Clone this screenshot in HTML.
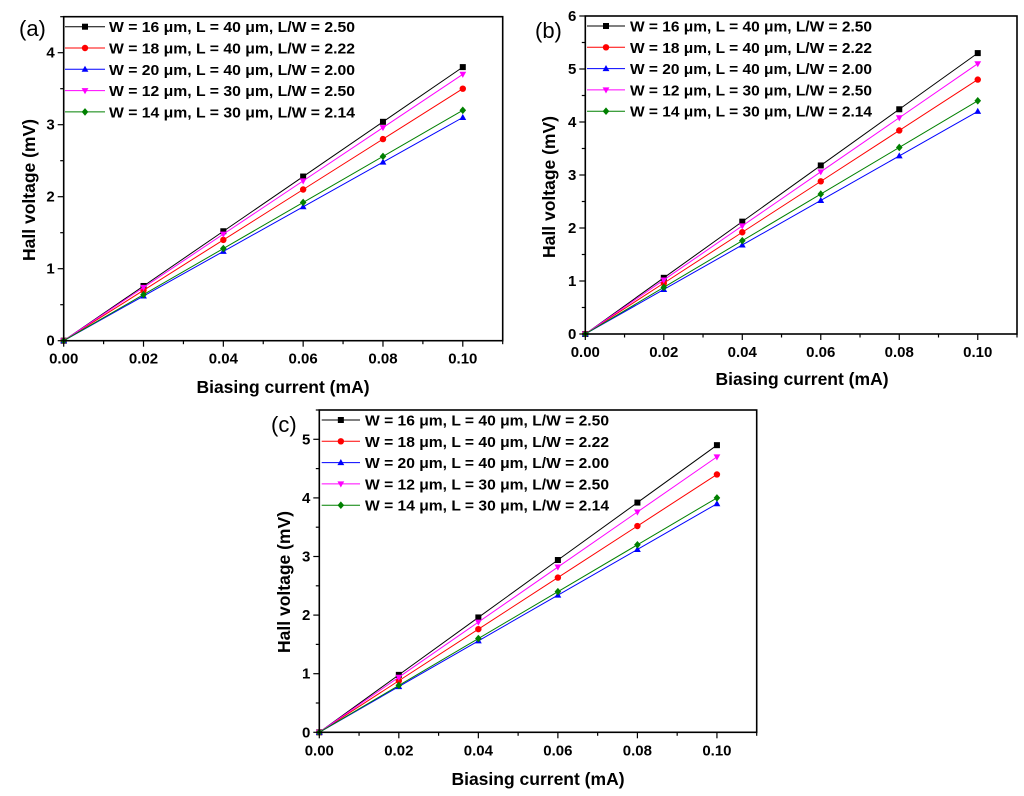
<!DOCTYPE html>
<html><head><meta charset="utf-8"><style>
html,body{margin:0;padding:0;background:#fff;}
svg{display:block;font-family:"Liberation Sans",Arial,sans-serif;}
</style></head><body>
<svg id="fig" width="1024" height="796" viewBox="0 0 1024 796" xmlns="http://www.w3.org/2000/svg"></svg>
<script>
const xValues = [0, 0.02, 0.04, 0.06, 0.08, 0.10];
const seriesLabels = ["W = 16 μm, L = 40 μm, L/W = 2.50","W = 18 μm, L = 40 μm, L/W = 2.22","W = 20 μm, L = 40 μm, L/W = 2.00","W = 12 μm, L = 30 μm, L/W = 2.50","W = 14 μm, L = 30 μm, L/W = 2.14"];
const xTickLabels = ["0.00","0.02","0.04","0.06","0.08","0.10"];
const aBlack = [0,0.76,1.52,2.28,3.04,3.8];
const aRed = [0,0.70,1.40,2.10,2.80,3.5];
const aBlue = [0,0.62,1.24,1.86,2.48,3.1];
const aMagenta = [0,0.74,1.48,2.22,2.96,3.7];
const aGreen = [0,0.64,1.28,1.92,2.56,3.2];
const bBlack = [0,1.06,2.12,3.18,4.24,5.3];
const bRed = [0,0.96,1.92,2.88,3.84,4.8];
const bBlue = [0,0.84,1.68,2.52,3.36,4.2];
const bMagenta = [0,1.02,2.04,3.06,4.08,5.1];
const bGreen = [0,0.88,1.76,2.64,3.52,4.4];
const cBlack = [0,0.98,1.96,2.94,3.92,4.9];
const cRed = [0,0.88,1.76,2.64,3.52,4.4];
const cBlue = [0,0.78,1.56,2.34,3.12,3.9];
const cMagenta = [0,0.94,1.88,2.82,3.76,4.7];
const cGreen = [0,0.80,1.60,2.40,3.20,4.0];
const aYTicks = [0,1,2,3,4];
const bYTicks = [0,1,2,3,4,5,6];
const cYTicks = [0,1,2,3,4,5];

const colors = ["#000000","#ff0000","#0000ff","#ff00ff","#008000"];
const markers = ["square","circle","triUp","triDown","diamond"];
const NS = "http://www.w3.org/2000/svg";
const fig = document.getElementById('fig');
function mk(tag, attrs, parent){const e=document.createElementNS(NS,tag);for(const k in attrs)e.setAttribute(k,attrs[k]);(parent||fig).appendChild(e);return e;}
function marker(g,type,x,y,c){
  let e;
  if(type==="square") e=mk('rect',{x:x-3,y:y-3,width:6,height:6,fill:c},g);
  else if(type==="circle") e=mk('circle',{cx:x,cy:y,r:3.2,fill:c},g);
  else if(type==="triUp") e=mk('polygon',{points:`${x},${y-3.6} ${x-3.4},${y+2.5} ${x+3.4},${y+2.5}`,fill:c},g);
  else if(type==="triDown") e=mk('polygon',{points:`${x},${y+3.6} ${x-3.4},${y-2.5} ${x+3.4},${y-2.5}`,fill:c},g);
  else e=mk('polygon',{points:`${x},${y-3.8} ${x+3.3},${y} ${x},${y+3.8} ${x-3.3},${y}`,fill:c},g);
  
  
}
function panel(p){
  const g=mk('g',{});
  
  
  const X=v=>p.L+(v/0.11)*(p.R-p.L);
  const Y=v=>p.B-(v/p.ymax)*(p.B-p.T);
  p.series.forEach((s,i)=>{
    const pts=xValues.map((xv,j)=>X(xv)+','+Y(s[j])).join(' ');
    const l=mk('polyline',{points:pts,fill:'none',stroke:colors[i],'stroke-width':1},g);
    
    
    xValues.forEach((xv,j)=>marker(g,markers[i],X(xv),Y(s[j]),colors[i]));
  });
  const f=mk('rect',{x:p.L,y:p.T,width:p.R-p.L,height:p.B-p.T,fill:'none',stroke:'#000','stroke-width':1.6},g);
  
  
  for(let k=0;k<=11;k++){
    const v=k*0.01, x=X(v), major=k%2===0;
    mk('line',{x1:x,y1:p.B,x2:x,y2:p.B+(major?6:3.5),stroke:'#000','stroke-width':1.2},g);
  }
  xTickLabels.forEach((t,j)=>{
    const e=mk('text',{x:X(xValues[j]),y:p.B+23,'text-anchor':'middle','font-size':15,'font-weight':'bold'},g);
    e.textContent=t;
    
    
  });
  for(let v=0;v<=p.ymax+1e-9;v+=0.5){
    const major=Math.abs(v-Math.round(v))<1e-9;
    mk('line',{x1:p.L,y1:Y(v),x2:p.L-(major?6:3.5),y2:Y(v),stroke:'#000','stroke-width':1.2},g);
  }
  p.yTicks.forEach(v=>{
    const e=mk('text',{x:p.L-9,y:Y(v)+5,'text-anchor':'end','font-size':15,'font-weight':'bold'},g);
    e.textContent=String(v);
    
    
  });
  const xt=mk('text',{x:p.xtX,y:p.xtY,'text-anchor':'middle','font-size':17.5,'font-weight':'bold'},g);
  xt.textContent='Biasing current (mA)';
  
  
  const yt=mk('text',{x:0,y:0,'text-anchor':'middle','font-size':17.5,'font-weight':'bold',transform:`translate(${p.ytX},${p.ytY}) rotate(-90)`},g);
  yt.textContent='Hall voltage (mV)';
  
  
  const lab=mk('text',{x:p.labX,y:p.labY,'font-size':22},g);
  lab.textContent='('+p.id+')';
  
  
  seriesLabels.forEach((t,i)=>{
    const y=p.legY+i*21.3;
    const lg=mk('g',{},g);
    
    
    mk('line',{x1:p.legX1,y1:y,x2:p.legX2,y2:y,stroke:colors[i],'stroke-width':1},lg);
    marker(lg,markers[i],(p.legX1+p.legX2)/2,y,colors[i]);
    const e=mk('text',{x:p.legTX,y:y+5.5,'font-size':15,'font-weight':'bold',textLength:p.legW,lengthAdjust:'spacingAndGlyphs'},lg);
    e.textContent=t;
  });
}
panel({id:'a',L:63.7,R:502.7,T:16.7,B:340.7,ymax:4.5,yTicks:aYTicks,series:[aBlack,aRed,aBlue,aMagenta,aGreen],
  xtX:283,xtY:393,ytX:35,ytY:190,labX:19,labY:36,legX1:65,legX2:105,legTX:109,legW:246,legY:26.7});
panel({id:'b',L:585.3,R:1017,T:16,B:334,ymax:6,yTicks:bYTicks,series:[bBlack,bRed,bBlue,bMagenta,bGreen],
  xtX:802,xtY:385,ytX:555,ytY:187,labX:535,labY:38,legX1:587,legX2:625,legTX:630,legW:242,legY:26});
panel({id:'c',L:319.3,R:756.7,T:410,B:732.3,ymax:5.5,yTicks:cYTicks,series:[cBlack,cRed,cBlue,cMagenta,cGreen],
  xtX:538,xtY:785,ytX:290,ytY:582,labX:271,labY:432,legX1:321.7,legX2:360,legTX:365,legW:244,legY:420});
</script>
</body></html>
